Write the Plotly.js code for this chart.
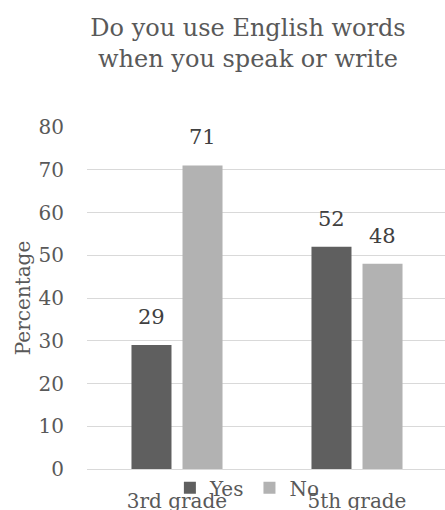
<!DOCTYPE html>
<html><head><meta charset="utf-8">
<script src="https://cdn.plot.ly/plotly-3.0.1.min.js"></script>
<style>html,body{margin:0;padding:0;background:#fff}#chart{width:445px;height:510px}</style>
</head><body><div id="chart"></div>
<script>
const categories = ['3rd grade', '5th grade'];
const seriesNames = ['Yes', 'No'];
const yesValues = [29, 52];
const noValues = [71, 48];
const yTicks = [0, 10, 20, 30, 40, 50, 60, 70, 80];

const FONT = 'DejaVu Serif';
const colors = ['#5f5f5f', '#b2b2b2'];
const W = 445, H = 510, ML = 87, MR = 0, MT = 127, MB = 41;
const BARGAP = 0.433, BARGROUPGAP = 0.216;
const xRange = [-0.5, -0.5 + (W - ML - MR) / 180];

const series = [yesValues, noValues];
const traces = series.map((vals, s) => ({
  type: 'bar', name: seriesNames[s], x: categories, y: vals,
  marker: {color: colors[s]}, hoverinfo: 'x+y+name'
}));

const pxPerCat = (W - ML - MR) / (xRange[1] - xRange[0]);
const slot = pxPerCat * (1 - BARGAP) / series.length;
const annotations = [];
series.forEach((vals, s) => {
  vals.forEach((v, i) => {
    annotations.push({
      x: categories[i], y: v, xref: 'x', yref: 'y', text: String(v), showarrow: false,
      xshift: (s - (series.length - 1) / 2) * slot, yshift: 14, yanchor: 'bottom',
      font: {family: FONT, size: 21, color: '#404040'}
    });
  });
});

const layout = {
  width: W, height: H, margin: {l: ML, r: MR, t: MT, b: MB, pad: 0},
  paper_bgcolor: '#fff', plot_bgcolor: '#fff',
  font: {family: FONT, color: '#595959'},
  title: {text: 'Do you use English words<br>when you speak or write', font: {family: FONT, size: 24, color: '#595959'},
    x: 248 / W, xref: 'container', xanchor: 'center', y: 0.93, yref: 'container', yanchor: 'top'},
  barmode: 'group', bargap: BARGAP, bargroupgap: BARGROUPGAP,
  xaxis: {type: 'category', range: xRange, showgrid: false, showline: false, zeroline: false, ticks: '',
    tickfont: {family: FONT, size: 20, color: '#595959'}, ticklabelstandoff: 18, automargin: false, fixedrange: true},
  yaxis: {range: [0, 80], tickvals: yTicks, ticktext: yTicks.map(String), showgrid: true, gridcolor: '#d9d9d9', gridwidth: 1,
    zeroline: true, zerolinecolor: '#d9d9d9', zerolinewidth: 1, showline: false, ticks: '',
    tickfont: {family: FONT, size: 20, color: '#595959'}, ticklabelstandoff: 22, automargin: false, fixedrange: true,
    title: {text: 'Percentage', font: {family: FONT, size: 20, color: '#595959'}, standoff: 2}},
  showlegend: true,
  legend: {orientation: 'h', x: 0.448, xanchor: 'center', y: -0.055, yanchor: 'middle', bgcolor: 'rgba(0,0,0,0)',
    font: {family: FONT, size: 20, color: '#595959'}, itemwidth: 30, tracegroupgap: 0},
  annotations: annotations
};

Plotly.newPlot('chart', traces, layout, {displayModeBar: false, staticPlot: true});
</script></body></html>
